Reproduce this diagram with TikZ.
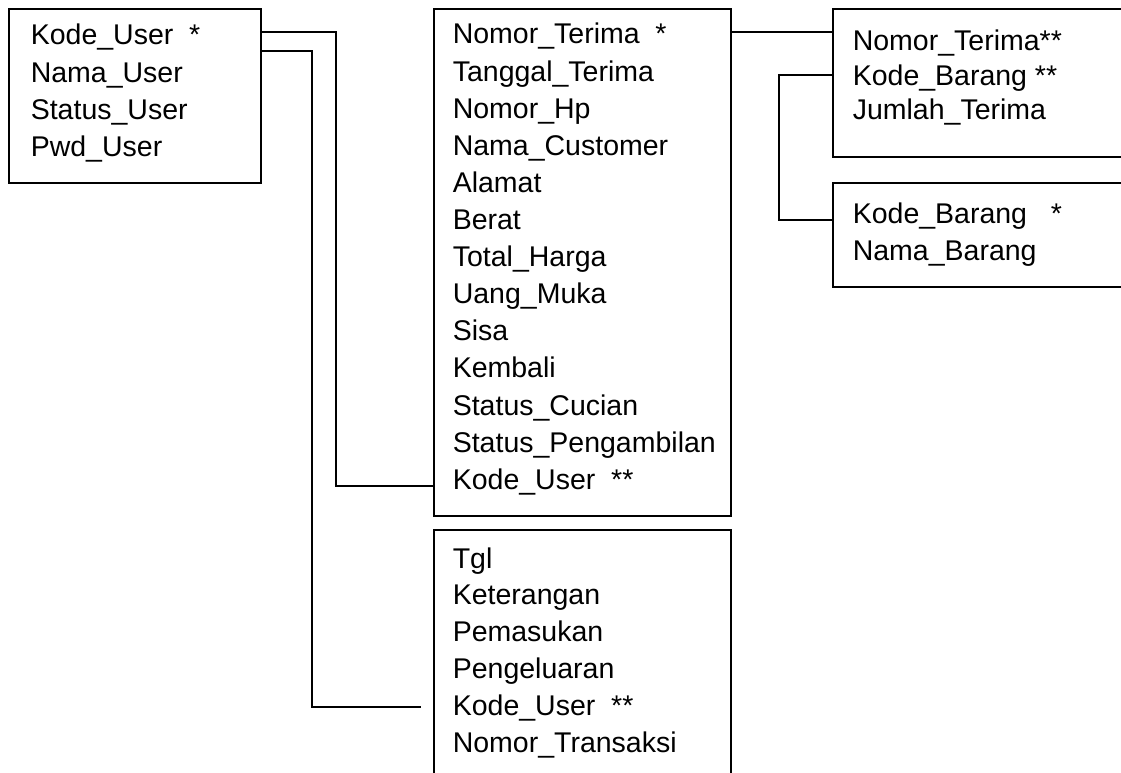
\documentclass[tikz,border=0pt]{standalone}
\usepackage{fontspec}
\setmainfont{Liberation Sans}
\usetikzlibrary{positioning}

\tikzset{
	tabel/.style={draw,rectangle,inner sep=0pt,outer sep=0pt,anchor=north west},
	atribut/.style={anchor=base west,inner sep=0pt,font=\fontsize{28.5}{34}\selectfont}
}

\begin{document}
\begin{tikzpicture}[x=1pt,y=-1pt,line width=1.6pt]
			\clip (0,0) rectangle (1121,773);
			\fill[white] (0,0) rectangle (1121,773);
			\node[tabel,minimum width=252pt,minimum height=174pt] (user) at (9,9) {};
			\foreach \f [count=\i] in {Kode\_User\ \ *,Nama\_User,Status\_User,Pwd\_User}
				\node[atribut] (u\i) at (30,45+37.3*\i-37.3) {\f};
			\node[tabel,minimum width=297pt,minimum height=507pt] (terima) at (434,9) {};
			\foreach \f [count=\i] in {Nomor\_Terima\ \ *,Tanggal\_Terima,Nomor\_Hp,Nama\_Customer,Alamat,Berat,Total\_Harga,Uang\_Muka,Sisa,Kembali,Status\_Cucian,Status\_Pengambilan,Kode\_User\ \ **}
				\node[atribut] (t\i) at (452,44+37.1*\i-37.1) {\f};
			\node[tabel,minimum width=297pt,minimum height=270pt] (kas) at (434,530) {};
			\foreach \f [count=\i] in {Tgl,Keterangan,Pemasukan,Pengeluaran,Kode\_User\ \ **,Nomor\_Transaksi}
				\node[atribut] (k\i) at (452,568+36.8*\i-36.8) {\f};
			\node[tabel,minimum width=310pt,minimum height=148pt] (detail) at (833,9) {};
			\node[atribut] (d1) at (852,51) {Nomor\_Terima**};
			\node[atribut] (d2) at (852,86) {Kode\_Barang **};
			\node[atribut] (d3) at (852,120) {Jumlah\_Terima};
			\node[tabel,minimum width=310pt,minimum height=104pt] (barang) at (833,183) {};
			\node[atribut] (b1) at (852,223) {Kode\_Barang\ \ \ *};
			\node[atribut] (b2) at (852,260) {Nama\_Barang};
			\coordinate (ujung) at (421,707);
			\draw (user.east |- 0,32) -| (336,486) -- (terima.west |- 0,486);
			\draw (user.east |- 0,51) -| (312,707) -- (ujung);
			\draw (terima.east |- 0,32) -- (detail.west |- 0,32);
			\draw (detail.west |- 0,75) -| (779,220) -- (barang.west |- 0,220);
		\end{tikzpicture}
\end{document}
